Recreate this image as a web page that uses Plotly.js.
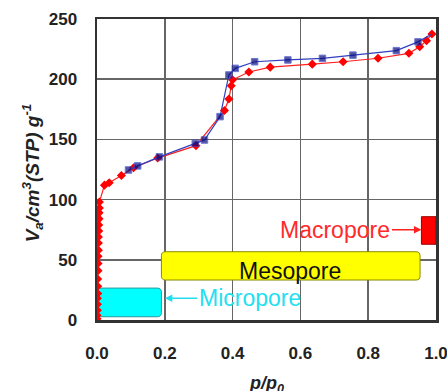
<!DOCTYPE html>
<html><head><meta charset="utf-8">
<script src="https://cdn.plot.ly/plotly-3.0.1.min.js"></script>
<style>html,body{margin:0;padding:0;background:#fff}#chart{width:447px;height:391px}</style>
</head><body><div id="chart"></div>
<script>
// Adsorption branch (red)
const pAds = [0.000,0.000,0.001,0.001,0.001,0.002,0.002,0.002,0.003,0.003,0.003,0.004,0.004,0.004,0.005,0.005,0.006,0.006,0.007,0.007,0.022,0.036,0.072,0.108,0.179,0.292,0.376,0.389,0.396,0.400,0.448,0.511,0.635,0.726,0.829,0.920,0.952,0.972,0.988];
const vAds = [1,4,8,13,18,22,28,34,41,47,53,58,64,69,74,79,84,89,93,98,112,114,120,126.5,134.5,144.8,174,183.5,194.5,199.5,206,210,212.5,214.5,217.4,221.5,227,232,237.5];
// Desorption branch (blue)
const pDes = [0.988,0.947,0.883,0.755,0.665,0.563,0.465,0.408,0.389,0.363,0.317,0.290,0.184,0.120,0.093];
const vDes = [237.5,231,223.7,220,217.3,216,214.5,209,203.5,168.9,149.5,146.7,135.5,128,124.6];
// Pore regions
const poreNames = ["Micropore","Mesopore","Macropore"];
const poreP = [[0.0,0.19],[0.19,0.953],[0.957,1.0]];
const poreV = [[2.7,26.5],[33.2,56.7],[62.9,85.8]];
const poreFill = ["#00FFFF","#FFFF00","#FF0000"];
const poreLine = ["#2a9a9a","#8a8a00","#990000"];

function roundRect(x0,x1,y0,y1){
  const rx=0.012, ry=3.3;
  return `M${x0+rx},${y0} L${x1-rx},${y0} Q${x1},${y0} ${x1},${y0+ry} L${x1},${y1-ry} Q${x1},${y1} ${x1-rx},${y1} L${x0+rx},${y1} Q${x0},${y1} ${x0},${y1-ry} L${x0},${y0+ry} Q${x0},${y0} ${x0+rx},${y0} Z`;
}
const shapes = poreNames.map((n,i)=>({
  type:'path', xref:'x', yref:'y', layer:'between',
  path: i===2 ? `M${poreP[i][0]},${poreV[i][0]} L${poreP[i][1]},${poreV[i][0]} L${poreP[i][1]},${poreV[i][1]} L${poreP[i][0]},${poreV[i][1]} Z` : roundRect(poreP[i][0],poreP[i][1],poreV[i][0],poreV[i][1]),
  fillcolor: poreFill[i], line:{color:poreLine[i], width:1}
}));

const F = '"Liberation Sans", Arial, sans-serif';
const traces = [
  {x:pAds, y:vAds, mode:'lines+markers', line:{color:'#ff2020', width:1.2},
   marker:{symbol:'diamond', size:7, color:'#ff0000'}, hoverinfo:'skip'},
  {x:pDes, y:vDes, mode:'lines+markers', line:{color:'#3040c0', width:1.2},
   marker:{symbol:'square', size:pDes.map((p,i)=>i===0?0:6.5), color:'#08087a'}, hoverinfo:'skip'}
];
const ax = {showline:true, mirror:true, linecolor:'#333', linewidth:2.5, showgrid:true,
  gridcolor:'#666', gridwidth:1.5, zeroline:false, ticks:'', ticklabeloverflow:'allow',
  tickfont:{family:F, size:17, color:'#222', weight:'bold'}};
const layout = {
  width:447, height:391, margin:{l:97, r:11, t:19, b:71},
  paper_bgcolor:'#fff', plot_bgcolor:'#fff', showlegend:false,
  xaxis:Object.assign({}, ax, {range:[0,1], dtick:0.2, tick0:0, tickformat:'.1f', ticklabelstandoff:16}),
  yaxis:Object.assign({}, ax, {range:[0,250], dtick:50, tick0:0, ticklabelstandoff:14}),
  shapes: shapes,
  annotations:[
    {x:0.2, y:18, xref:'x', yref:'y', text:poreNames[0], showarrow:true, ax:85, ay:0,
     arrowhead:2, arrowsize:1, arrowwidth:1.5, arrowcolor:'#22ddee',
     font:{family:F, size:23, color:'#22e0f0'}},
    {x:0.568, y:41, xref:'x', yref:'y', text:poreNames[1], showarrow:false,
     font:{family:F, size:23, color:'#111'}},
    {x:poreP[2][0], y:75, xref:'x', yref:'y', text:poreNames[2], showarrow:true, ax:-86, ay:0,
     arrowhead:2, arrowsize:1, arrowwidth:1.5, arrowcolor:'#ff2020',
     font:{family:F, size:23, color:'#ff2a2a'}},
    {x:0.5, y:-0.215, xref:'paper', yref:'paper', yanchor:'middle', showarrow:false,
     text:'<b><i>p/p</i></b><sub><b><i>0</i></b></sub>', font:{family:F, size:18, color:'#222'}},
    {x:-0.235, y:0.49, xref:'paper', yref:'paper', textangle:-90, showarrow:false,
     text:'<b><i>V</i></b><sub><b><i>a</i></b></sub><b><i>/cm</i></b><sup><b><i>3</i></b></sup><b><i>(STP) g</i></b><sup><b><i>-1</i></b></sup>',
     font:{family:F, size:19, color:'#222'}}
  ]
};
Plotly.newPlot('chart', traces, layout, {staticPlot:true, displayModeBar:false});
</script></body></html>
